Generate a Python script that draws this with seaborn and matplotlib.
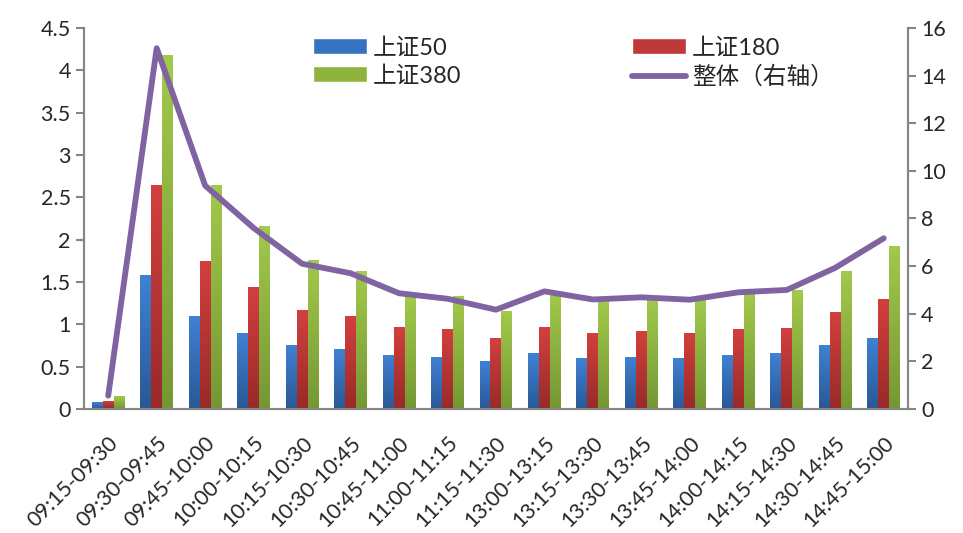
import numpy as np
import pandas as pd
import matplotlib
matplotlib.use('Agg')
import matplotlib.pyplot as plt
import seaborn as sns
from matplotlib.patches import Patch
from matplotlib.lines import Line2D
from matplotlib.colors import LinearSegmentedColormap

# data
periods = ['09:15-09:30', '09:30-09:45', '09:45-10:00', '10:00-10:15', '10:15-10:30',
           '10:30-10:45', '10:45-11:00', '11:00-11:15', '11:15-11:30', '13:00-13:15',
           '13:15-13:30', '13:30-13:45', '13:45-14:00', '14:00-14:15', '14:15-14:30',
           '14:30-14:45', '14:45-15:00']
sz50 = [0.08, 1.58, 1.10, 0.90, 0.76, 0.71, 0.64, 0.62, 0.57, 0.66, 0.60, 0.62, 0.60, 0.64, 0.66, 0.76, 0.84]
sz180 = [0.10, 2.65, 1.75, 1.44, 1.17, 1.10, 0.97, 0.94, 0.84, 0.97, 0.90, 0.92, 0.90, 0.95, 0.96, 1.14, 1.30]
sz380 = [0.15, 4.18, 2.65, 2.16, 1.76, 1.63, 1.33, 1.33, 1.16, 1.39, 1.28, 1.30, 1.29, 1.38, 1.40, 1.63, 1.93]
total = [0.56, 15.15, 9.38, 7.6, 6.1, 5.7, 4.86, 4.63, 4.17, 4.94, 4.6, 4.69, 4.59, 4.9, 5.0, 5.93, 7.17]

series_names = ['上证50', '上证180', '上证380']
line_name = '整体（右轴）'

df = pd.DataFrame({'period': periods * 3,
                   'value': sz50 + sz180 + sz380,
                   'series': [series_names[0]] * 17 + [series_names[1]] * 17 + [series_names[2]] * 17})

sns.set_theme(style='white')
plt.rcParams['font.family'] = ['Lato', 'Noto Sans CJK SC', 'DejaVu Sans']

# (top, bottom) gradient colours like the Excel bars
grads = {'上证50': ('#3f82d4', '#2a5895'),
         '上证180': ('#d3403e', '#982a29'),
         '上证380': ('#a2ca4c', '#759733')}
flat = {'上证50': '#3572c0', '上证180': '#c0393a', '上证380': '#8fb43e'}
purple = '#8064a2'
axis_grey = '#868686'

fig = plt.figure(figsize=(9.63, 5.33), dpi=100)
ax = fig.add_axes([0.0872, 0.2326, 0.8557, 0.715])

sns.barplot(data=df, x='period', y='value', hue='series', palette=flat,
            width=0.68, ax=ax, legend=False, saturation=1)

# swap flat bars for vertical gradients
grad_img = np.linspace(1, 0, 256).reshape(-1, 1)
n = len(periods)
bars = [p for p in ax.patches if p.get_height() > 0]
for i, p in enumerate(bars):
    name = series_names[i // n]
    cmap = LinearSegmentedColormap.from_list(name, [grads[name][1], grads[name][0]])
    x0, y0 = p.get_x(), p.get_y()
    w, h = p.get_width(), p.get_height()
    im = ax.imshow(grad_img, cmap=cmap, aspect='auto', extent=[x0, x0 + w, y0, y0 + h],
                   zorder=p.get_zorder(), interpolation='bilinear')
    im.set_clip_path(p)
    p.set_facecolor('none')
    p.set_edgecolor('none')

ax.set_xlim(-0.5, n - 0.5)
ax.set_ylim(0, 4.5)
ax.set_yticks(np.arange(0, 4.51, 0.5))
ax.set_yticklabels(['0', '0.5', '1', '1.5', '2', '2.5', '3', '3.5', '4', '4.5'], fontsize=15.5)
ax.set_xlabel('')
ax.set_ylabel('')

# labels at centres, tick marks at category boundaries
ax.set_xticks(range(n))
ax.set_xticklabels(periods, rotation=45, ha='right', rotation_mode='anchor', fontsize=15.5)
ax.set_xticks(np.arange(-0.5, n, 1), minor=True)
ax.tick_params(axis='x', which='major', length=0, pad=17)
ax.tick_params(axis='x', which='minor', length=6, color=axis_grey, width=1.5, direction='out')
ax.tick_params(axis='y', length=6, color=axis_grey, width=1.5, direction='out', left=True)

ax2 = ax.twinx()
sns.lineplot(x=np.arange(n), y=total, ax=ax2, color=purple, linewidth=4.2, legend=False)
ax2.lines[0].set_solid_capstyle('round')
ax2.lines[0].set_solid_joinstyle('round')
ax2.set_ylim(0, 16)
ax2.set_yticks(np.arange(0, 17, 2))
ax2.set_yticklabels([str(v) for v in range(0, 17, 2)], fontsize=15.5)
ax2.tick_params(axis='y', length=6, color=axis_grey, width=1.5, direction='out', right=True)
ax2.set_xlim(-0.5, n - 0.5)

for a in (ax, ax2):
    a.spines['top'].set_visible(False)
    for s in ('left', 'right', 'bottom'):
        a.spines[s].set_color(axis_grey)
        a.spines[s].set_linewidth(1.5)
    a.grid(False)

handles = [Patch(facecolor=flat['上证50']), Patch(facecolor=flat['上证380']),
           Patch(facecolor=flat['上证180']),
           Line2D([0], [0], color=purple, linewidth=4.2, solid_capstyle='round')]
labels = ['上证50', '上证380', '上证180', line_name]
fig.legend(handles, labels, ncol=2, loc='upper left', bbox_to_anchor=(0.303, 0.97),
           frameon=False, fontsize=17, handlelength=2.3, handleheight=0.68,
           columnspacing=7.2, labelspacing=0.3, handletextpad=0.25)

fig.savefig('out.png', dpi=100)
